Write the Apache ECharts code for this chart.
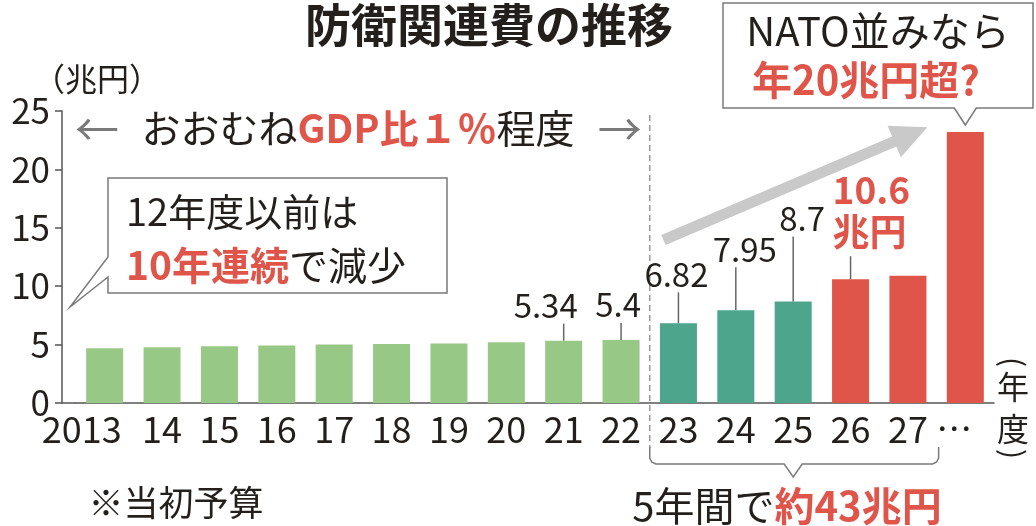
<!DOCTYPE html>
<html lang="ja">
<head>
<meta charset="utf-8">
<title>防衛関連費の推移</title>
<script src="https://cdn.jsdelivr.net/npm/echarts@6/dist/echarts.min.js"></script>
<style>
  html, body { margin: 0; padding: 0; background: #fff; }
  #chart { width: 1036px; height: 526px; }
</style>
</head>
<body>
<div id="chart"></div>
<script>
// 年度（2013〜27、その先は「…」）
const years = ['2013', '14', '15', '16', '17', '18', '19', '20', '21', '22', '23', '24', '25', '26', '27', '…']
// 防衛関連費（当初予算、兆円）
const budget = [4.68, 4.78, 4.86, 4.92, 5.0, 5.05, 5.1, 5.2, 5.34, 5.4, 6.82, 7.95, 8.7, 10.6, 10.9, 23.2]
// 区分：GDP比1%程度 / 5年計画の前半 / 増額後
const phase = ['gdp1', 'gdp1', 'gdp1', 'gdp1', 'gdp1', 'gdp1', 'gdp1', 'gdp1', 'gdp1', 'gdp1',
  'plan', 'plan', 'plan', 'boost', 'boost', 'boost']
// 数値を書き込む年度
const labeledYears = ['21', '22', '23', '24', '25', '26']
// 縦軸の目盛り
const yTicks = [0, 5, 10, 15, 20, 25]

const FONT = "'Noto Sans CJK JP', 'Noto Sans', sans-serif"
const INK = '#231f1c'
const RED = '#e0554a'
const GREY = '#7a7a7a'
const AXIS = '#555'
const barColors = { gdp1: '#98c886', plan: '#4da58c', boost: '#e0554a' }

const GRID_LEFT = 76
const Y_OFFSET = 14

const chart = echarts.init(document.getElementById('chart'))

chart.setOption({
  animation: false,
  backgroundColor: '#fff',
  grid: { left: GRID_LEFT, right: 42, top: 111, bottom: 123 },
  xAxis: {
    type: 'category',
    data: years,
    axisLine: { lineStyle: { color: AXIS, width: 1.5 } },
    axisTick: { show: false },
    axisLabel: {
      interval: 0,
      margin: 8,
      fontFamily: FONT,
      fontSize: 36,
      color: INK,
      formatter: v => v === '2013' ? '{first|2013}' : v === '…' ? '{dots|…}' : v,
      rich: {
        first: { fontFamily: FONT, fontSize: 36, color: INK, padding: [0, 46, 0, 0] },
        dots: { fontFamily: FONT, fontSize: 36, color: INK, padding: [0, 22, 0, 0] }
      }
    }
  },
  yAxis: {
    type: 'value',
    min: yTicks[0],
    max: yTicks[yTicks.length - 1],
    interval: yTicks[1] - yTicks[0],
    offset: Y_OFFSET,
    axisLine: { show: true, lineStyle: { color: AXIS, width: 1.5 } },
    axisTick: { show: true, length: 7, lineStyle: { color: AXIS, width: 1.5 } },
    splitLine: { show: false },
    axisLabel: { fontFamily: FONT, fontSize: 35, color: INK, margin: 12 }
  },
  series: [{
    type: 'bar',
    barWidth: 37,
    data: budget.map((v, i) => ({ value: v, itemStyle: { color: barColors[phase[i]] } }))
  }]
})

// 注記類はデータ座標から位置を求めて描く
const px = (i, v) => chart.convertToPixel({ gridIndex: 0 }, [i, v])
const y0 = px(0, 0)[1]
const yTop = px(0, yTicks[yTicks.length - 1])[1]
const axisX = GRID_LEFT - Y_OFFSET
const catW = px(1, 0)[0] - px(0, 0)[0]

const txt = (x, y, text, o = {}, rotation = 0) => ({
  type: 'text', x, y, z: 20, rotation,
  style: Object.assign({
    text, fill: INK, fontFamily: FONT, fontSize: 34,
    align: 'center', verticalAlign: 'middle'
  }, o)
})
const seg = (x1, y1, x2, y2, o = {}) => ({
  type: 'line', z: 10,
  shape: { x1, y1, x2, y2 },
  style: Object.assign({ stroke: GREY, lineWidth: 1.5 }, o)
})

const g = []

// 縦軸と横軸をつなぐ
g.push(seg(axisX, y0, GRID_LEFT, y0, { stroke: AXIS }))

// 22年度と23年度の区切り（破線）
const divX = (px(9, 0)[0] + px(10, 0)[0]) / 2
g.push(seg(divX, yTop + 4, divX, y0 + 45, { stroke: '#9a9a9a', lineDash: [6, 4] }))

// タイトル・単位
g.push(txt(489, 25, '防衛関連費の推移', { fontSize: 46, fontWeight: 'bold' }))
g.push(txt(33, 79, '（兆円）', { fontSize: 32, align: 'left' }))

// ←おおむねGDP比1%程度→
g.push(txt(97, 129, '←', { fontSize: 44, fill: GREY }))
g.push(txt(divX - 30, 129, '→', { fontSize: 44, fill: GREY }))
g.push(txt(358, 128, '{k|おおむね}{r|GDP比１％}{k|程度}', {
  rich: {
    k: { fontFamily: FONT, fontSize: 39, fill: INK },
    r: { fontFamily: FONT, fontSize: 39, fill: RED, fontWeight: 'bold' }
  }
}))

// 吹き出し：12年度以前は10年連続で減少
g.push({
  type: 'polygon', z: 12,
  shape: { points: [[108, 178], [447, 178], [447, 293], [108, 293], [108, 277], [axisX + 8, 307], [108, 257]] },
  style: { fill: '#fff', stroke: GREY, lineWidth: 1.5 }
})
g.push(txt(126, 212, '12年度以前は', { fontSize: 38, align: 'left' }))
g.push(txt(126, 265, '{r|10年連続}{k|で減少}', {
  align: 'left',
  rich: {
    k: { fontFamily: FONT, fontSize: 39, fill: INK },
    r: { fontFamily: FONT, fontSize: 39, fill: RED, fontWeight: 'bold' }
  }
}))

// 棒の数値と引き出し線
const lift = { '21': 17, '22': 17, '23': 31, '24': 43, '25': 65, '26': 23 }
const shiftX = { '21': -18, '22': -3, '23': -2, '24': 9, '25': 9, '26': 0 }
labeledYears.forEach(y => {
  const i = years.indexOf(y)
  const [cx, top] = px(i, budget[i])
  const ly = top - lift[y]
  g.push(seg(cx, top, cx, ly, { stroke: '#666' }))
  if (y === '26') {
    g.push(txt(cx - 18, ly - 66, String(budget[i]), { fontSize: 37, fontWeight: 'bold', fill: RED, align: 'left' }))
    g.push(txt(cx - 18, ly - 24, '兆円', { fontSize: 37, fontWeight: 'bold', fill: RED, align: 'left' }))
  } else {
    g.push(txt(cx + shiftX[y], ly - 18, String(budget[i]), { fontSize: 33 }))
  }
})

// 右肩上がりの灰色矢印
const last = years.length - 1
const [aX1, aY1] = [px(10, 0)[0] - 15, px(10, 13.95)[1]]
const [aX2, aY2] = [px(last, 0)[0] - 38, px(last, 23.6)[1]]
const len = Math.hypot(aX2 - aX1, aY2 - aY1)
const ux = (aX2 - aX1) / len, uy = (aY2 - aY1) / len
const head = 36, half = 17
const bx = aX2 - ux * head, by = aY2 - uy * head
g.push(seg(aX1, aY1, bx + ux * 2, by + uy * 2, { stroke: '#c9c9c9', lineWidth: 11, lineCap: 'butt' }))
g.push({
  type: 'polygon', z: 10,
  shape: { points: [[aX2, aY2], [bx - uy * half, by + ux * half], [bx + uy * half, by - ux * half]] },
  style: { fill: '#c9c9c9' }
})

// 吹き出し：NATO並みなら年20兆円超?
const [lastX, lastTop] = px(last, budget[last])
g.push({
  type: 'polygon', z: 12,
  shape: {
    points: [[723, 3], [1033, 3], [1033, 108], [lastX + 11, 108], [lastX, lastTop - 7],
      [lastX - 11, 108], [723, 108]]
  },
  style: { fill: '#fff', stroke: GREY, lineWidth: 1.5 }
})
g.push(txt(878, 31, 'NATO並みなら', { fontSize: 40 }))
g.push(txt(866, 80, '年20兆円超?', { fontSize: 40, fontWeight: 'bold', fill: RED }))

// 横軸の単位（縦書き）
g.push(txt(1013, 362, '(', { fontSize: 30 }, -Math.PI / 2))
g.push(txt(1013, 387, '年', { fontSize: 32 }))
g.push(txt(1013, 429, '度', { fontSize: 32 }))
g.push(txt(1013, 454, ')', { fontSize: 30 }, -Math.PI / 2))

// 23〜27年度をくくる括弧
const bL = divX, bR = px(14, 0)[0] + catW / 2 + 2
const bMid = (px(10, 0)[0] + px(14, 0)[0]) / 2
const bTop = y0 + 44, bY = y0 + 61
g.push({
  type: 'polyline', z: 10,
  shape: {
    points: [[bL, bTop], [bL, bY - 6], [bL + 2, bY - 2], [bL + 6, bY], [bMid - 9, bY], [bMid, bY + 13],
      [bMid + 9, bY], [bR - 6, bY], [bR - 2, bY - 2], [bR, bY - 6], [bR, bTop]]
  },
  style: { stroke: GREY, lineWidth: 1.5, fill: null }
})

// 脚注
g.push(txt(176, 503, '※当初予算', { fontSize: 35 }))
g.push(txt(787, 506, '{k|5年間で}{r|約43兆円}', {
  rich: {
    k: { fontFamily: FONT, fontSize: 40, fill: INK },
    r: { fontFamily: FONT, fontSize: 40, fill: RED, fontWeight: 'bold' }
  }
}))

chart.setOption({ graphic: g })
</script>
</body>
</html>
